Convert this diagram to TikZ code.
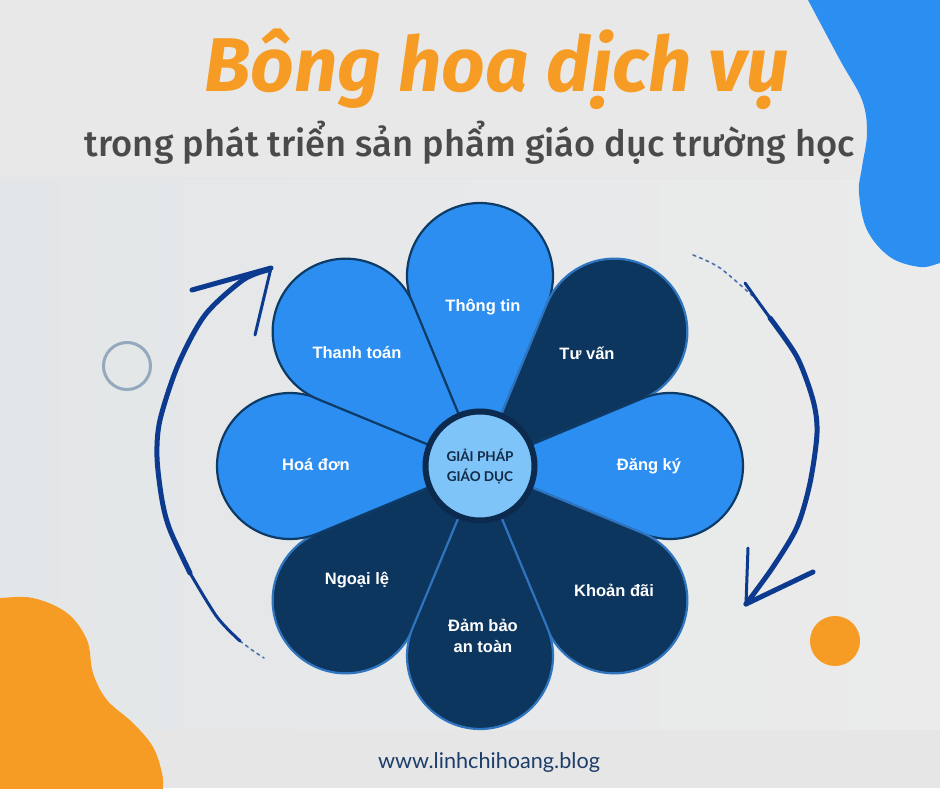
\documentclass[tikz,border=0pt]{standalone}
\usepackage{fontspec}
\setmainfont{Liberation Sans}
\newfontfamily\titlefont{Fira Sans}
\newfontfamily\subfont{Fira Sans Medium}
\newfontfamily\hubfont{Lato}
\usetikzlibrary{calc}
\definecolor{bgtop}{HTML}{E8E8E8}
\definecolor{bgmidL}{HTML}{E3E6E8}
\definecolor{bgmidM}{HTML}{F1F1F1}
\definecolor{bgmidR}{HTML}{EBEBEB}
\definecolor{bgbot}{HTML}{E6E6E6}
\definecolor{blobblue}{HTML}{2B8FF2}
\definecolor{bloborange}{HTML}{F69C24}
\definecolor{ringgray}{HTML}{94A9BD}
\definecolor{arrowblue}{HTML}{0B3A8E}
\definecolor{petallight}{HTML}{2B8EF0}
\definecolor{petaldark}{HTML}{0D365F}
\definecolor{borderlight}{HTML}{0E3A66}
\definecolor{borderdark}{HTML}{2F74BE}
\definecolor{hubfill}{HTML}{7EC4F9}
\definecolor{hubborder}{HTML}{0B2A4E}
\definecolor{hubtext}{HTML}{132A46}
\definecolor{subgray}{HTML}{4A4A4A}
\definecolor{urlblue}{HTML}{1D3D6B}
\newcommand\drawpetal[2]{%
  \draw[#2] (480,322) -- ($(480,322)+(#1+22.6:175.4pt)$)
    arc[start angle=#1+112.6, end angle=#1-112.6, radius=73pt] -- cycle;}
\begin{document}
\begin{tikzpicture}[x=1pt,y=1pt,
  lightpetal/.style={fill=petallight, draw=borderlight, line width=2.2pt, line join=round},
  darkpetal/.style={fill=petaldark, draw=borderdark, line width=2.2pt, line join=round},
  lbl/.style={text=white, font=\fontsize{16.5}{21}\selectfont\bfseries, align=center, inner sep=0pt},
  brush/.style={draw=arrowblue, line width=5pt, line cap=round, line join=round},
  thinbrush/.style={draw=arrowblue, line width=3pt, line cap=round, line join=round},
  faintbrush/.style={draw=arrowblue, line width=1.6pt, line cap=round, dash pattern=on 3pt off 4pt, opacity=0.7}]
\useasboundingbox (0,0) rectangle (940,788);
% backgrounds
\fill[bgtop] (0,610) rectangle (940,788);
\shade[left color=bgmidL, middle color=bgmidM, right color=bgmidR] (0,58) rectangle (940,610);
\draw[black!10, line width=0.8pt] (0,610) -- (940,610);
\fill[bgbot] (0,0) rectangle (940,58);
% blobs
\fill[blobblue] plot[smooth, tension=0.6] coordinates {(806,792) (808,788) (840,728) (862,688) (867,655) (862,621) (859,595) (867,558) (890,531) (920,521) (940,525) (944,526)} -- (944,792) -- cycle;
\fill[bloborange] plot[smooth, tension=0.6] coordinates {(-4,190) (0,190) (33,190) (67,175) (87,148) (93,115) (107,88) (133,65) (153,41) (162,15) (163,0) (163,-4)} -- (-4,-4) -- cycle;
\draw[ringgray, line width=3pt] (127,422) circle[radius=23.5pt];
\fill[bloborange] (835,147) circle[radius=25pt];
% titles
\node[anchor=base, inner sep=0pt, text=bloborange] (title) at (497,696) {\resizebox{585pt}{!}{\titlefont\bfseries\itshape Bông hoa dịch vụ}};
\node[anchor=base, inner sep=0pt, text=subgray] (subtitle) at (470,631) {\resizebox{770pt}{!}{\subfont trong phát triển sản phẩm giáo dục trường học}};
\node[anchor=base, inner sep=0pt, text=urlblue] (url) at (489,20) {\resizebox{222pt}{!}{\hubfont www.linhchihoang.blog}};
% arrows
\draw[brush] plot[smooth] coordinates {(268,518) (243,508) (205,473) (178,423) (160,368) (157,331) (162,288) (170,258) (190,215)};
\draw[thinbrush] plot[smooth] coordinates {(190,215) (217,171) (240,147)};
\draw[faintbrush] plot[smooth] coordinates {(240,147) (252,138) (264,130)};
\draw[brush] (192,498) -- (271,520);
\draw[thinbrush] (271,520) -- (255,453);
\draw[faintbrush] plot[smooth] coordinates {(693,533) (720,520) (757,488)};
\draw[thinbrush] (745,505) -- (757,488) -- (770,470);
\draw[brush] plot[smooth] coordinates {(770,470) (797,431) (813,388) (817,355) (810,305) (797,261) (773,221) (746,184)};
\draw[thinbrush] (748,240) -- (746,184);
\draw[brush] (746,184) -- (813,216);
% petals
\drawpetal{90}{lightpetal}
\drawpetal{45}{darkpetal}
\drawpetal{0}{lightpetal}
\drawpetal{-45}{darkpetal}
\drawpetal{-135}{darkpetal}
\drawpetal{-90}{darkpetal}
\drawpetal{180}{lightpetal}
\drawpetal{135}{lightpetal}
% hub
\node[circle, minimum size=109pt, inner sep=0pt, fill=hubfill, draw=hubborder, line width=6pt,
  text=hubtext, align=center, font=\hubfont\bfseries\fontsize{13.5}{20}\selectfont] (hub) at (480,322) {GIẢI PHÁP\\GIÁO DỤC};
% labels
\node[lbl] (thongtin) at (483,481) {Thông tin};
\node[lbl] (tuvan) at (587,435) {Tư vấn};
\node[lbl] (dangky) at (649,322) {Đăng ký};
\node[lbl] (khoandai) at (614,198) {Khoản đãi};
\node[lbl] (dambao) at (483,152) {Đảm bảo\\an toàn};
\node[lbl] (ngoaile) at (357,208) {Ngoại lệ};
\node[lbl] (hoadon) at (316,323) {Hoá đơn};
\node[lbl] (thanhtoan) at (357,435) {Thanh toán};
\end{tikzpicture}
\end{document}
